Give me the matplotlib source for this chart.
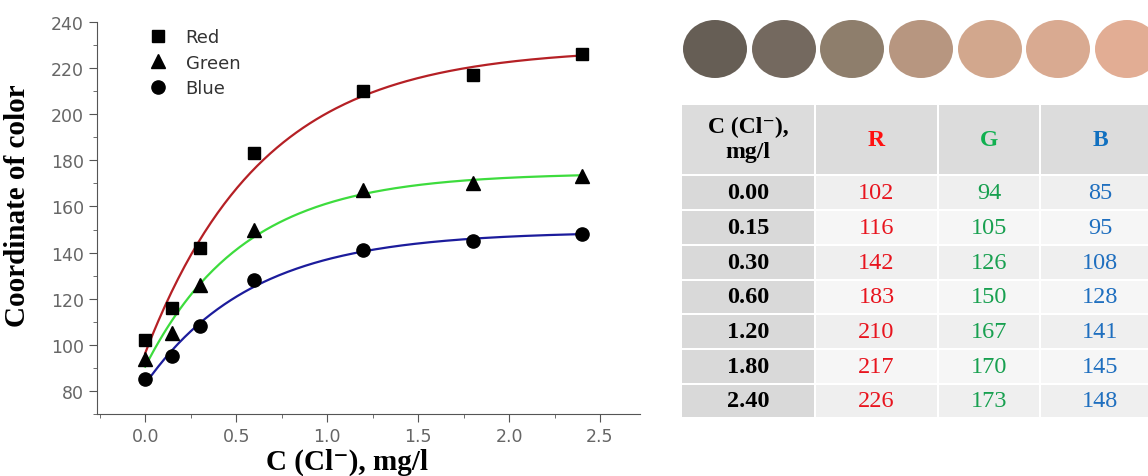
import numpy as np
import matplotlib
matplotlib.use('Agg')
import matplotlib.pyplot as plt
from matplotlib.patches import Rectangle, Ellipse
from matplotlib.lines import Line2D

# data
conc = [0.00, 0.15, 0.30, 0.60, 1.20, 1.80, 2.40]
red = [102, 116, 142, 183, 210, 217, 226]
green = [94, 105, 126, 150, 167, 170, 173]
blue = [85, 95, 108, 128, 141, 145, 148]
conc_labels = ['0.00', '0.15', '0.30', '0.60', '1.20', '1.80', '2.40']


def exp_fit(x, y):
    # y = A - B*exp(-x/t), grid over t, least squares for A, B
    x = np.asarray(x, float)
    y = np.asarray(y, float)
    best = None
    for t in np.linspace(0.1, 3.0, 600):
        M = np.column_stack([np.ones_like(x), -np.exp(-x / t)])
        coef, res, _, _ = np.linalg.lstsq(M, y, rcond=None)
        err = np.sum((M @ coef - y) ** 2)
        if best is None or err < best[0]:
            best = (err, coef[0], coef[1], t)
    _, A, B, t = best
    return lambda xx: A - B * np.exp(-xx / t)


W, H = 1148, 477
fig = plt.figure(figsize=(W / 100, H / 100), dpi=100)
ax = fig.add_axes([97 / W, 1 - 415 / H, 543 / W, (415 - 23) / H])

xs = np.linspace(0, 2.4, 200)
series = [(red, 's', '#b52025', 'Red', 8.5),
          (green, '^', '#3ddc3d', 'Green', 10),
          (blue, 'o', '#1c1c9c', 'Blue', 9.5)]
handles = []
for vals, mk, col, name, ms in series:
    f = exp_fit(conc, vals)
    ax.plot(xs, f(xs), color=col, lw=1.6, zorder=2)
    ax.plot(conc, vals, mk, color='black', ms=ms, zorder=3)
    handles.append(Line2D([], [], marker=mk, color='black', ls='', ms=ms, label=name))

ax.set_xlim(-0.265, 2.72)
ax.set_ylim(70, 240)
ax.set_xticks([0.0, 0.5, 1.0, 1.5, 2.0, 2.5])
ax.set_xticks(np.arange(-0.25, 2.75, 0.25), minor=True)
ax.set_yticks(np.arange(80, 241, 20))
ax.set_yticks(np.arange(70, 241, 10), minor=True)
ax.xaxis.set_major_formatter(matplotlib.ticker.FormatStrFormatter('%.1f'))
for s in ['top', 'right']:
    ax.spines[s].set_visible(False)
for s in ['left', 'bottom']:
    ax.spines[s].set_color('#555555')
ax.tick_params(which='major', length=6, color='#555555', labelcolor='#666666', labelsize=12.5)
ax.tick_params(which='minor', length=3, color='#555555')
ax.set_ylabel('Coordinate of color', family='Liberation Serif', fontweight='bold', fontsize=21)
ax.yaxis.set_label_coords(-0.122, 0.535)
ax.set_xlabel('C (Cl\u207b), mg/l', family=['Liberation Serif', 'DejaVu Serif'], fontweight='bold',
              fontsize=21)
ax.xaxis.set_label_coords(0.46, -0.085)
ax.legend(handles=handles, loc='upper left', bbox_to_anchor=(0.05, 1.025), frameon=False,
          fontsize=13, labelcolor='#333333', handletextpad=0.5, labelspacing=0.4)

# right panel in pixel coordinates
rx = fig.add_axes([670 / W, 0, (W - 670) / W, 1])
rx.set_xlim(670, W)
rx.set_ylim(H, 0)
rx.axis('off')

# colour circles from the measured RGB values
cx = [715, 784, 852, 921, 990, 1058, 1127]
for i in range(len(conc)):
    c = (red[i] / 255, green[i] / 255, blue[i] / 255)
    rx.add_patch(Ellipse((cx[i], 50), 64, 58, color=c, lw=0))

cols = [681, 815, 938, 1040, 1160]
rows = [105, 176, 211, 246, 281, 315, 350, 385, 419]
# header
for j in range(4):
    rx.add_patch(Rectangle((cols[j] + 1, rows[0] + 1), cols[j + 1] - cols[j] - 2, rows[1] - rows[0] - 2,
                           color='#dcdcdc', lw=0))
rx.text((cols[0] + cols[1]) / 2, 140, 'C (Cl\u207b),\nmg/l', ha='center', va='center',
        family=['Liberation Serif', 'DejaVu Serif'], fontweight='bold', fontsize=17, linespacing=1.3)
for j, (lab, col) in enumerate([('R', '#ff1010'), ('G', '#10b050'), ('B', '#1070c0')]):
    rx.text((cols[j + 1] + cols[j + 2]) / 2, 141, lab, ha='center', va='center',
            family='Liberation Serif', fontweight='bold', fontsize=17, color=col)

val_cols = ['#e8141e', '#18a050', '#1f6fbf']
for i in range(len(conc)):
    y0, y1 = rows[i + 1], rows[i + 2]
    ym = (y0 + y1) / 2
    bg = '#efefef' if i % 2 == 0 else '#f6f6f6'
    rx.add_patch(Rectangle((cols[0] + 1, y0 + 1), cols[1] - cols[0] - 2, y1 - y0 - 2, color='#d9d9d9', lw=0))
    for j in range(1, 4):
        rx.add_patch(Rectangle((cols[j] + 1, y0 + 1), cols[j + 1] - cols[j] - 2, y1 - y0 - 2, color=bg, lw=0))
    rx.text((cols[0] + cols[1]) / 2, ym, conc_labels[i], ha='center', va='center',
            family='Liberation Serif', fontweight='bold', fontsize=17.5)
    for j, vals in enumerate([red, green, blue]):
        rx.text((cols[j + 1] + cols[j + 2]) / 2, ym, str(vals[i]), ha='center', va='center',
                family='Liberation Serif', fontsize=17.5, color=val_cols[j])

fig.savefig('out.png', dpi=100)
